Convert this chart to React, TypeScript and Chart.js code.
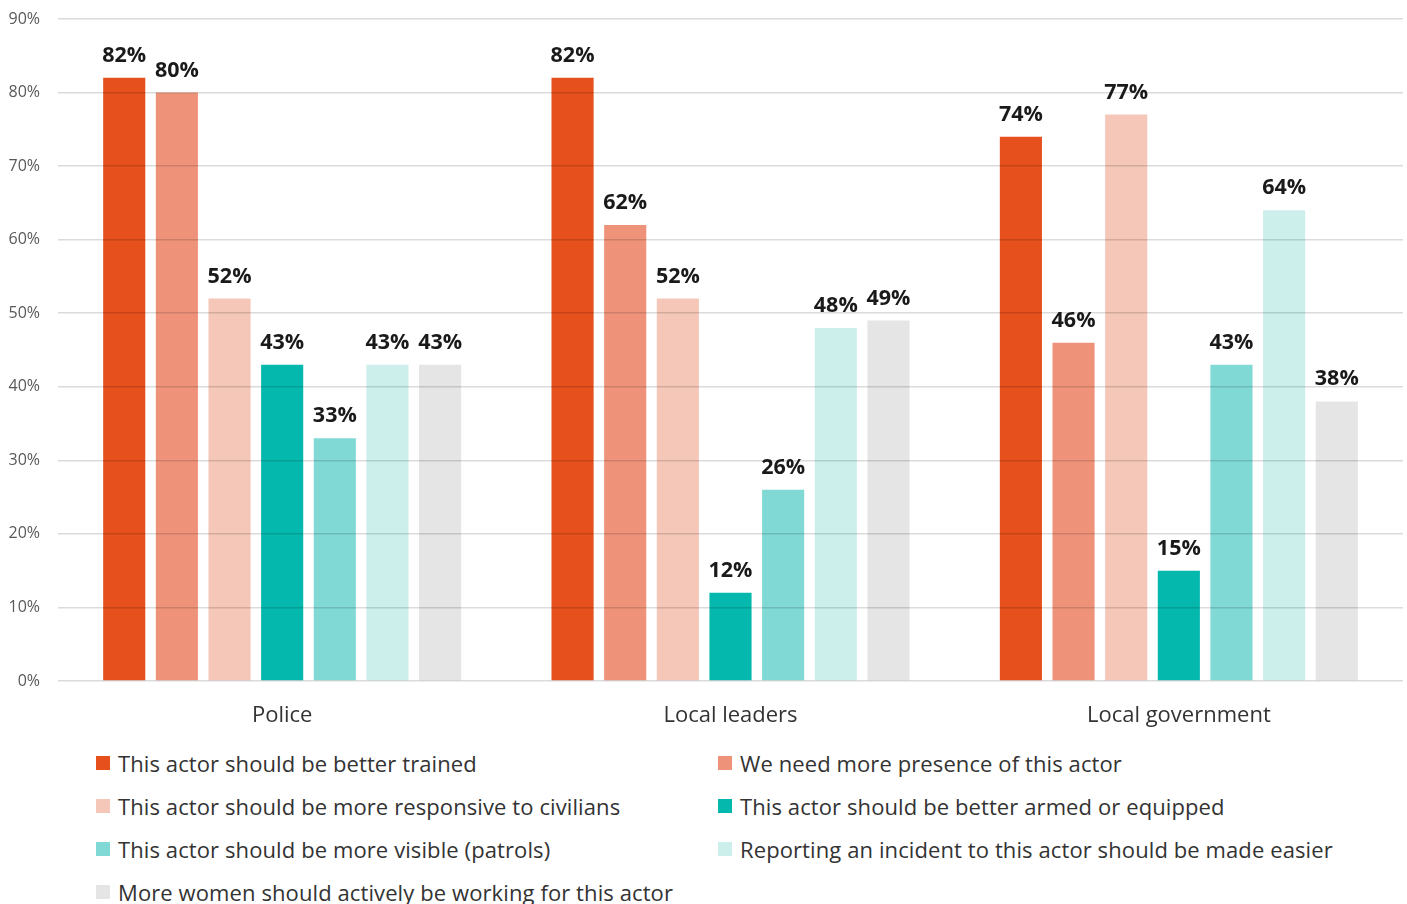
import React, { useEffect, useRef } from "react";
import { Chart, registerables } from "chart.js";

Chart.register(...registerables);

const categories = ["Police", "Local leaders", "Local government"];
const seriesNames = [
  "This actor should be better trained",
  "We need more presence of this actor",
  "This actor should be more responsive to civilians",
  "This actor should be better armed or equipped",
  "This actor should be more visible (patrols)",
  "Reporting an incident to this actor should be made easier",
  "More women should actively be working for this actor",
];
const seriesColors = ["#E5501D", "#EE937A", "#F5C7B8", "#05B8AD", "#80D9D4", "#CCEFEC", "#E5E5E5"];
const betterTrained = [82, 82, 74];
const morePresence = [80, 62, 46];
const moreResponsive = [52, 52, 77];
const betterArmed = [43, 12, 15];
const moreVisible = [33, 26, 43];
const reportingEasier = [43, 48, 64];
const moreWomen = [43, 49, 38];
const seriesValues = [betterTrained, morePresence, moreResponsive, betterArmed, moreVisible, reportingEasier, moreWomen];
const yTicks = [0, 10, 20, 30, 40, 50, 60, 70, 80, 90];

const FONT = "'Open Sans', Lato, sans-serif";

const labelPlugin = {
  id: "barLabels",
  afterDraw(chart: any) {
    const ctx = chart.ctx;
    ctx.save();
    ctx.font = `bold 21.5px ${FONT}`;
    ctx.fillStyle = "#1a1a1a";
    ctx.textAlign = "center";
    ctx.textBaseline = "alphabetic";
    chart.data.datasets.forEach((ds: any, i: number) => {
      const meta = chart.getDatasetMeta(i);
      meta.data.forEach((bar: any, j: number) => {
        ctx.fillText(ds.data[j] + "%", bar.x, bar.y - 16);
      });
    });
    ctx.restore();
  },
};

export default function App() {
  const ref = useRef<HTMLCanvasElement | null>(null);
  useEffect(() => {
    if (!ref.current) return;
    const chart = new Chart(ref.current, {
      type: "bar",
      data: {
        labels: categories,
        datasets: seriesNames.map((name, i) => ({
          label: name,
          data: seriesValues[i],
          backgroundColor: seriesColors[i],
          borderWidth: 0,
          categoryPercentage: 0.822,
          barPercentage: 0.8,
        })),
      },
      options: {
        responsive: false,
        animation: false,
        layout: { padding: { left: 0, right: 4, top: 19, bottom: 0 } },
        plugins: { legend: { display: false }, tooltip: { enabled: false } },
        scales: {
          x: {
            grid: { display: false, drawTicks: false },
            border: { display: false },
            ticks: { color: "#333", font: { family: FONT, size: 22 }, padding: 22 },
            afterFit: (s: any) => { s.height = 59; },
          },
          y: {
            min: 0,
            max: 90,
            afterBuildTicks: (s: any) => { s.ticks = yTicks.map((v) => ({ value: v })); },
            grid: { color: "rgba(0,0,0,0.14)", lineWidth: 1.5, drawTicks: false, z: 1 },
            border: { display: false },
            ticks: {
              color: "#595959",
              font: { family: FONT, size: 16 },
              padding: 18,
              callback: (v: any) => v + "%",
            },
            afterFit: (s: any) => { s.width = 58; s.paddingTop = 0; s.paddingBottom = 0; },
          },
        },
      },
      plugins: [labelPlugin],
    });
    return () => chart.destroy();
  }, []);

  const legendItem = (i: number) => (
    <div key={i} style={{ display: "flex", alignItems: "center", height: 43 }}>
      <span style={{ width: 14, height: 14, background: seriesColors[i], display: "inline-block", marginRight: 8, flex: "none" }} />
      <span>{seriesNames[i]}</span>
    </div>
  );

  return (
    <div style={{ position: "absolute", left: 0, top: 0, width: 1407, height: 904, overflow: "hidden", background: "#fff" }}>
      <canvas ref={ref} width={1407} height={740} style={{ display: "block" }} />
      <div style={{ position: "absolute", left: 96, top: 741, width: 1300, fontFamily: FONT, fontSize: 22, letterSpacing: 0.1, color: "#333", display: "grid", gridTemplateColumns: "622px 600px", whiteSpace: "nowrap" }}>
        {seriesNames.map((_, i) => legendItem(i))}
      </div>
    </div>
  );
}
